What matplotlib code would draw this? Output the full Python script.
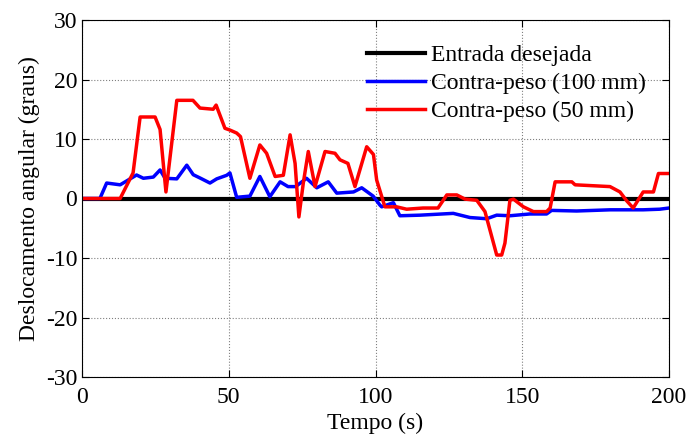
import matplotlib

matplotlib.use("Agg")
import matplotlib.pyplot as plt  # noqa: E402

plt.rcParams["font.family"] = ["Liberation Serif", "DejaVu Serif"]
plt.rcParams["axes.unicode_minus"] = False

# Entrada desejada (reference, constant zero)
ref_t = [0, 200]
ref_v = [0, 0]

# Contra-peso (100 mm) - blue
t100 = [0, 6.1, 8.4, 13, 18.6, 20.9, 24.3, 26.6, 28.3, 32.3, 35.7, 37.9, 40.4, 43.6,
        45.9, 49.3, 50.4, 52.7, 57.2, 60.6, 64, 67.5, 70.2, 72.8, 76.5, 80, 83.9,
        86.8, 92.5, 95.3, 99.2, 101.5, 102.1, 106.1, 108.3, 115.2, 126.5, 132.2,
        137.9, 141.3, 145.8, 152.6, 158.3, 160, 168.5, 180, 191.2, 196.8, 200]
v100 = [0, 0, 2.6, 2.3, 3.95, 3.4, 3.6, 4.8, 3.4, 3.3, 5.6, 4.0, 3.4, 2.6,
        3.3, 3.9, 4.3, 0.2, 0.4, 3.7, 0.3, 2.8, 2.0, 2.0, 3.4, 1.8, 2.8,
        0.9, 1.1, 1.8, 0.4, -1.1, -1.4, -0.7, -2.9, -2.8, -2.5, -3.2,
        -3.4, -2.8, -2.9, -2.6, -2.6, -2.0, -2.1, -1.9, -1.9, -1.8, -1.6]

# Contra-peso (50 mm) - red
t50 = [0, 13, 17.4, 19.8, 24.9, 26.6, 28.6, 32.3, 37.8, 40.2, 44.7, 45.7, 48.7,
       50.4, 52.7, 54, 57.2, 60.6, 62.9, 65.8, 68.6, 70.9, 72.6, 73.9, 75.4,
       77.1, 79.4, 82.8, 86.2, 87.9, 90.6, 93, 97, 99.3, 100.4, 103.2, 107.2,
       110.6, 116.2, 121.3, 124.3, 127.7, 130.5, 134.5, 137.3, 139.6, 141.3,
       143, 144.1, 145.8, 147, 150.4, 153.8, 158.3, 159.5, 161.2, 166.9, 168,
       179.9, 183.3, 185.6, 187.8, 191.2, 194.7, 196.4, 200]
v50 = [0, 0, 4.3, 13.7, 13.7, 11.6, 1.1, 16.5, 16.5, 15.2, 15.0, 15.7, 11.8,
       11.5, 11.0, 10.4, 3.4, 9.0, 7.6, 3.7, 3.9, 10.7, 5.9, -3.1, 2.6,
       7.9, 2.0, 7.9, 7.6, 6.5, 5.9, 2.0, 8.7, 7.4, 3.1, -1.4, -1.4,
       -1.8, -1.6, -1.6, 0.6, 0.6, -0.1, -0.3, -2.2, -6.4, -9.5,
       -9.5, -7.5, -0.3, -0.1, -1.4, -2.2, -2.2, -1.6, 2.8, 2.8, 2.3,
       2.0, 1.1, -0.4, -1.6, 1.1, 1.1, 4.2, 4.2]

fig = plt.figure(figsize=(6.89, 4.38), dpi=100)
ax = fig.add_axes([82 / 689, 1 - 377 / 438, 587 / 689, 357 / 438])

ax.plot(ref_t, ref_v, color="black", lw=3, label="Entrada desejada")
ax.plot(t100, v100, color="#0000ff", lw=2.5, label="Contra-peso (100 mm)")
ax.plot(t50, v50, color="#ff0000", lw=2.5, label="Contra-peso (50 mm)")

ax.set_xlim(0, 200)
ax.set_ylim(-30, 30)
ax.set_xticks([0, 50, 100, 150, 200])
ax.set_yticks([-30, -20, -10, 0, 10, 20, 30])
ax.grid(True, linestyle=":", color="#808080", lw=0.8)
ax.tick_params(direction="in", labelsize=17, length=5, top=True, right=True)
ax.tick_params(axis="x", pad=7)
ax.set_xlabel("Tempo (s)", fontsize=17, labelpad=4)
ax.set_ylabel("Deslocamento angular (graus)", fontsize=17, labelpad=4)

ax.legend(loc="upper right", frameon=False, fontsize=17, handlelength=2.45,
          handletextpad=0.25, labelspacing=0.28, borderaxespad=0.3,
          bbox_to_anchor=(0.988, 0.978))

fig.savefig("out.png", dpi=100)
